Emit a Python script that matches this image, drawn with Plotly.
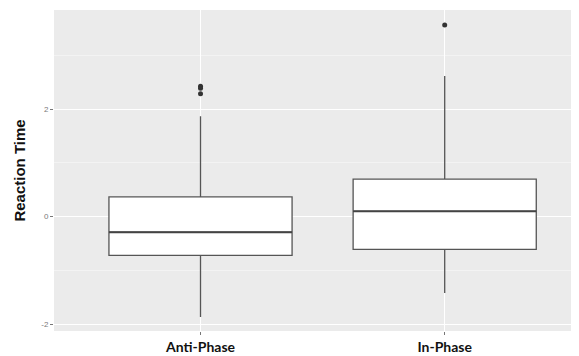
import plotly.graph_objects as go

categories = ["Anti-Phase", "In-Phase"]
q1_vals = [-0.72, -0.61]
median_vals = [-0.29, 0.10]
q3_vals = [0.37, 0.70]
lower_whisker = [-1.87, -1.42]
upper_whisker = [1.87, 2.62]
outlier_cats = ["Anti-Phase", "Anti-Phase", "Anti-Phase", "In-Phase"]
outlier_vals = [2.43, 2.39, 2.29, 3.57]
y_ticks = [-2, 0, 2]
y_tick_labels = ["-2", "0", "2"]
y_minor = [-1, 1, 3]

fig = go.Figure()
fig.add_trace(go.Box(
    x=categories, q1=q1_vals, median=median_vals, q3=q3_vals,
    lowerfence=lower_whisker, upperfence=upper_whisker,
    boxpoints=False, width=0.75, whiskerwidth=0,
    fillcolor="white", line=dict(color="#555555", width=1.3),
    showlegend=False, hoverinfo="skip",
))
# thicker median line (ggplot fatten)
fig.add_trace(go.Box(
    x=categories, q1=median_vals, median=median_vals, q3=median_vals,
    lowerfence=median_vals, upperfence=median_vals,
    boxpoints=False, width=0.75, whiskerwidth=0,
    fillcolor="rgba(0,0,0,0)", line=dict(color="#444444", width=1.9),
    showlegend=False, hoverinfo="skip",
))
fig.add_trace(go.Scatter(
    x=outlier_cats, y=outlier_vals, mode="markers",
    marker=dict(color="#333333", size=5), showlegend=False, hoverinfo="skip",
))

fig.update_layout(
    width=571, height=348,
    margin=dict(l=46, r=0, t=2, b=25),
    boxmode="overlay",
    paper_bgcolor="white", plot_bgcolor="#EBEBEB",
    xaxis=dict(
        range=[-0.6, 1.55], showgrid=True, gridcolor="white", gridwidth=1.2,
        zeroline=False, ticks="outside", ticklen=3, tickcolor="#777777",
        tickfont=dict(family="Lato, 'Open Sans', sans-serif", size=14, color="#111111", weight="bold"),
        showline=False,
    ),
    yaxis=dict(
        range=[-2.13, 3.85], tickvals=y_ticks, ticktext=y_tick_labels,
        showgrid=True, gridcolor="white", gridwidth=1.2, zeroline=False,
        ticks="outside", ticklen=3, tickcolor="#777777",
        tickfont=dict(family="Liberation Sans, Arial, sans-serif", size=8, color="#7a7a7a"),
        minor=dict(tickvals=y_minor, showgrid=True, gridcolor="#F3F3F3", gridwidth=0.8),
        title=dict(text="Reaction Time", standoff=12,
                   font=dict(family="Liberation Sans, Arial, sans-serif", size=15, color="#111111", weight="bold")),
    ),
)

fig.write_html("out.html")
